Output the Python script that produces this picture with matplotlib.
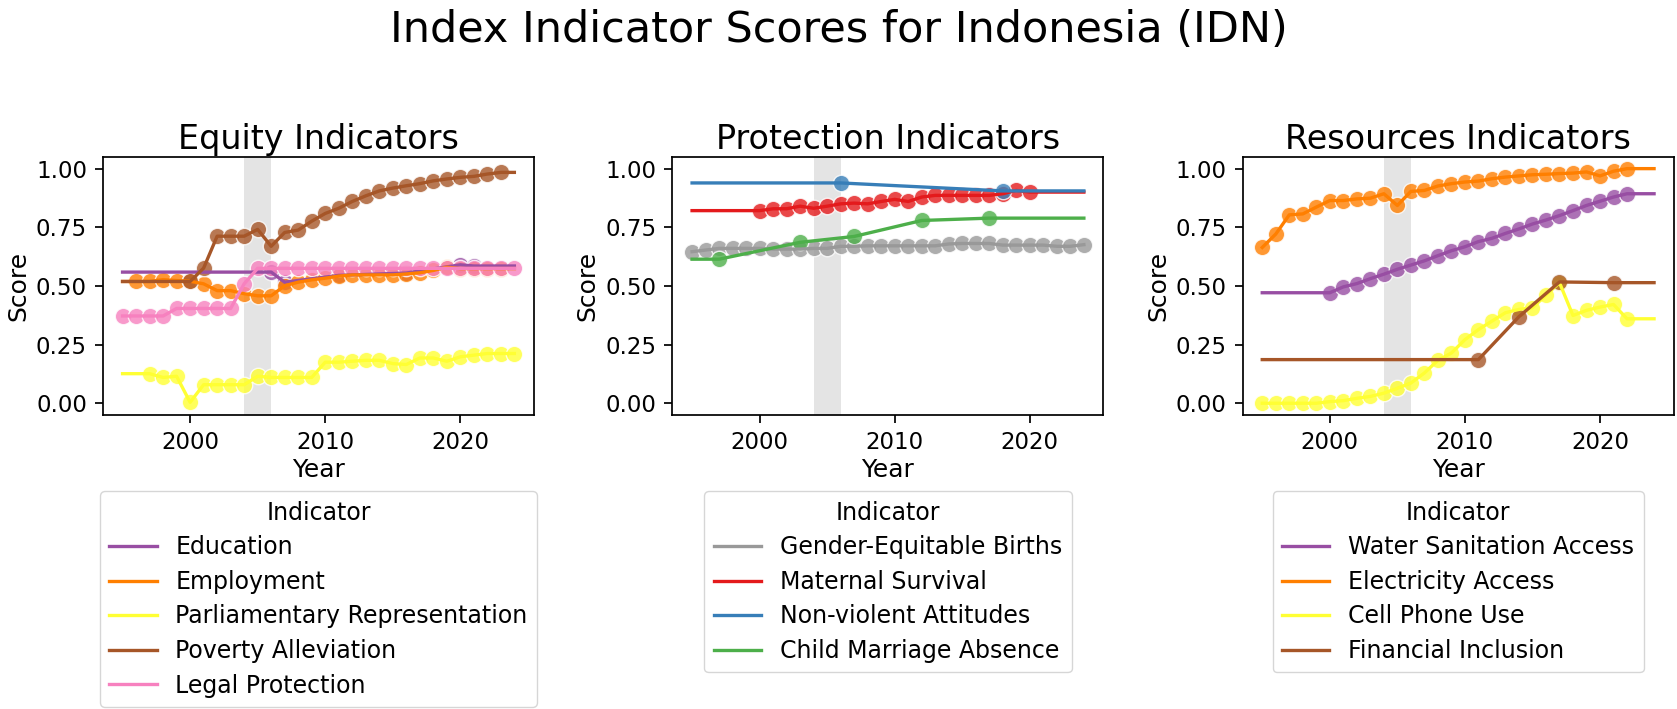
import matplotlib
matplotlib.use("Agg")
import matplotlib.pyplot as plt

plt.rcParams['font.family'] = ['DejaVu Sans']
plt.rcParams['axes.linewidth'] = 1.25
plt.rcParams['xtick.major.width'] = 1.25
plt.rcParams['ytick.major.width'] = 1.25
plt.rcParams['xtick.major.size'] = 5.5
plt.rcParams['ytick.major.size'] = 5.5
plt.rcParams['xtick.major.pad'] = 6
plt.rcParams['ytick.major.pad'] = 6

YEAR_MIN, YEAR_MAX = 1995, 2024

# ---------------- Equity ----------------
edu_years = [2006, 2007, 2011, 2016, 2020, 2021]
edu_vals = [0.559, 0.516, 0.545, 0.555, 0.590, 0.585]

emp_years = list(range(1996, 2024))
emp_vals = [0.519, 0.519, 0.527, 0.523, 0.520, 0.509, 0.480, 0.480, 0.467, 0.458,
            0.458, 0.501, 0.516, 0.526, 0.533, 0.542, 0.547, 0.547, 0.547, 0.547,
            0.551, 0.556, 0.566, 0.580, 0.574, 0.574, 0.574, 0.574]

parl_years = list(range(1997, 2025))
parl_vals = [0.126, 0.110, 0.115, 0.004, 0.079, 0.079, 0.079, 0.079, 0.115, 0.110,
             0.110, 0.110, 0.110, 0.175, 0.175, 0.179, 0.183, 0.183, 0.169, 0.165,
             0.193, 0.193, 0.179, 0.198, 0.205, 0.212, 0.212, 0.212]

pov_years = list(range(2000, 2024))
pov_vals = [0.519, 0.576, 0.712, 0.712, 0.712, 0.741, 0.669, 0.728, 0.738, 0.776,
            0.809, 0.831, 0.860, 0.884, 0.905, 0.917, 0.927, 0.936, 0.948, 0.956,
            0.963, 0.967, 0.977, 0.984]

legal_years = list(range(1995, 2025))
legal_vals = [0.372, 0.372, 0.372, 0.372, 0.404, 0.404, 0.404, 0.404, 0.404, 0.509,
              0.575, 0.575, 0.575, 0.575, 0.575, 0.575, 0.575, 0.575, 0.575, 0.575,
              0.575, 0.575, 0.575, 0.575, 0.575, 0.575, 0.575, 0.575, 0.575, 0.575]

# ---------------- Protection ----------------
geb_years = list(range(1995, 2025))
geb_vals = [0.646, 0.653, 0.660, 0.660, 0.660, 0.660, 0.657, 0.657, 0.657, 0.660,
            0.660, 0.669, 0.669, 0.671, 0.671, 0.671, 0.671, 0.671, 0.671, 0.679,
            0.681, 0.681, 0.681, 0.674, 0.674, 0.674, 0.674, 0.669, 0.669, 0.676]

mat_years = list(range(2000, 2021))
mat_vals = [0.821, 0.829, 0.829, 0.840, 0.831, 0.840, 0.850, 0.853, 0.850, 0.860,
            0.869, 0.860, 0.879, 0.886, 0.886, 0.886, 0.886, 0.886, 0.893, 0.907,
            0.900]

nva_years = [2006, 2018]
nva_vals = [0.939, 0.905]

cma_years = [1997, 2003, 2007, 2012, 2017]
cma_vals = [0.614, 0.686, 0.711, 0.779, 0.789]

# ---------------- Resources ----------------
wsa_years = list(range(2000, 2023))
wsa_vals = [0.471, 0.496, 0.510, 0.531, 0.550, 0.571, 0.589, 0.607, 0.629, 0.650,
            0.667, 0.689, 0.703, 0.724, 0.743, 0.764, 0.781, 0.800, 0.821, 0.843,
            0.861, 0.879, 0.893]

ele_years = list(range(1995, 2023))
ele_vals = [0.664, 0.721, 0.803, 0.807, 0.836, 0.864, 0.864, 0.871, 0.874, 0.893,
            0.843, 0.903, 0.907, 0.926, 0.936, 0.943, 0.947, 0.957, 0.964, 0.969,
            0.974, 0.976, 0.979, 0.981, 0.986, 0.969, 0.989, 1.000]

cell_years = list(range(1995, 2023))
cell_vals = [0.000, 0.000, 0.000, 0.000, 0.000, 0.007, 0.011, 0.021, 0.029, 0.043,
             0.064, 0.086, 0.129, 0.183, 0.214, 0.271, 0.314, 0.350, 0.386, 0.400,
             0.407, 0.461, 0.514, 0.374, 0.396, 0.410, 0.421, 0.360]

fin_years = [2011, 2014, 2017, 2021]
fin_vals = [0.186, 0.369, 0.517, 0.514]

SET1 = {
    'purple': '#984ea3', 'orange': '#ff7f00', 'yellow': '#ffff33',
    'brown': '#a65628', 'pink': '#f781bf', 'grey': '#999999',
    'red': '#e41a1c', 'blue': '#377eb8', 'green': '#4daf4a',
}

panels = [
    ("Equity Indicators", [
        ("Education", edu_years, edu_vals, SET1['purple']),
        ("Employment", emp_years, emp_vals, SET1['orange']),
        ("Parliamentary Representation", parl_years, parl_vals, SET1['yellow']),
        ("Poverty Alleviation", pov_years, pov_vals, SET1['brown']),
        ("Legal Protection", legal_years, legal_vals, SET1['pink']),
    ]),
    ("Protection Indicators", [
        ("Gender-Equitable Births", geb_years, geb_vals, SET1['grey']),
        ("Maternal Survival", mat_years, mat_vals, SET1['red']),
        ("Non-violent Attitudes", nva_years, nva_vals, SET1['blue']),
        ("Child Marriage Absence", cma_years, cma_vals, SET1['green']),
    ]),
    ("Resources Indicators", [
        ("Water Sanitation Access", wsa_years, wsa_vals, SET1['purple']),
        ("Electricity Access", ele_years, ele_vals, SET1['orange']),
        ("Cell Phone Use", cell_years, cell_vals, SET1['yellow']),
        ("Financial Inclusion", fin_years, fin_vals, SET1['brown']),
    ]),
]

fig = plt.figure(figsize=(16.77, 7.09), dpi=100)
lefts = [0.0614, 0.401, 0.741]
bottom, width, height = 0.4147, 0.257, 0.364

for left, (title, series) in zip(lefts, panels):
    ax = fig.add_axes([left, bottom, width, height])
    ax.axvspan(2004, 2006, color='lightgrey', alpha=0.6, lw=0, zorder=0)
    handles = []
    for name, yrs, vals, col in series:
        # line extended flat to the ends of the period
        lx = list(yrs)
        ly = list(vals)
        if lx[0] > YEAR_MIN:
            lx = [YEAR_MIN] + lx
            ly = [ly[0]] + ly
        if lx[-1] < YEAR_MAX:
            lx = lx + [YEAR_MAX]
            ly = ly + [ly[-1]]
        ax.scatter(yrs, vals, s=140, color=col, alpha=0.8, edgecolor='white',
                   linewidth=1, zorder=2)
        h, = ax.plot(lx, ly, color=col, lw=2.4, zorder=3, label=name)
        handles.append(h)
    ax.set_xlim(1993.55, 2025.45)
    ax.set_ylim(-0.05, 1.05)
    ax.set_xticks([2000, 2010, 2020])
    ax.set_yticks([0.0, 0.25, 0.5, 0.75, 1.0])
    ax.tick_params(labelsize=16.5)
    ax.set_title(title, fontsize=24)
    ax.set_xlabel("Year", fontsize=18, labelpad=3)
    ax.set_ylabel("Score", fontsize=18)
    leg = ax.legend(handles=handles, title="Indicator", loc='upper center',
                    bbox_to_anchor=(0.5, -0.295), borderaxespad=0,
                    fontsize=17, title_fontsize=17, labelspacing=0.45)

fig.text(0.5, 0.988, "Index Indicator Scores for Indonesia (IDN)", ha='center',
         va='top', fontsize=31)

fig.savefig("out.png", dpi=100)
